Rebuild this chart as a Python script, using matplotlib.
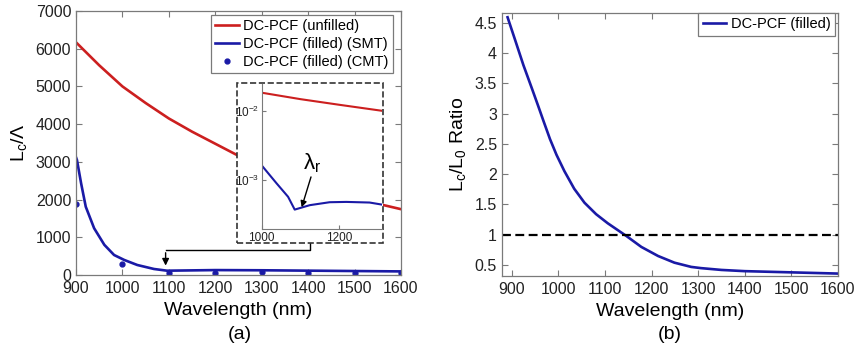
import matplotlib
matplotlib.use("Agg")
from matplotlib import pyplot as plt
from matplotlib.patches import Rectangle

plt.rcParams['font.family'] = ['Liberation Sans', 'DejaVu Sans']
plt.rcParams['mathtext.fontset'] = 'custom'
plt.rcParams['mathtext.rm'] = 'Liberation Sans'

# (a) coupling length / pitch
wl_red = [900, 950, 1000, 1050, 1100, 1150, 1200, 1250, 1300, 1400, 1500, 1560, 1600]
lc_red = [6170, 5560, 5000, 4560, 4150, 3800, 3480, 3160, 2900, 2420, 2060, 1860, 1745]

wl_smt = [900, 902, 911, 921, 939, 961, 982, 1004, 1032, 1068, 1096, 1200, 1300, 1400, 1500, 1600]
lc_smt = [3120, 3050, 2430, 1810, 1240, 800, 530, 398, 265, 159, 114, 130, 125, 115, 105, 95]

wl_cmt = [900, 1000, 1100, 1200, 1300, 1400, 1500, 1600]
lc_cmt = [1880, 285, 55, 65, 70, 65, 60, 60]

# inset (log scale)
wl_in_red = [1000, 1100, 1200, 1310]
lc_in_red = [0.0182, 0.0147, 0.0122, 0.0100]
wl_in_blue = [1000, 1038, 1068, 1085, 1124, 1175, 1218, 1278, 1308]
lc_in_blue = [1.64e-3, 9.1e-4, 5.8e-4, 3.8e-4, 4.4e-4, 4.85e-4, 4.9e-4, 4.8e-4, 4.5e-4]

# (b) ratio
wl_ratio = [891, 907, 925, 943, 957, 968, 982, 996, 1013, 1034, 1056, 1081, 1106,
            1146, 1178, 1214, 1249, 1285, 1306, 1350, 1400, 1500, 1600]
ratio = [4.59, 4.22, 3.80, 3.42, 3.12, 2.88, 2.58, 2.32, 2.05, 1.76, 1.53, 1.34, 1.19,
         0.98, 0.80, 0.65, 0.54, 0.47, 0.45, 0.42, 0.40, 0.38, 0.36]

red = '#cc1f1f'
blue = '#1a1aa6'
spine_c = '#7a7a7a'

fig = plt.figure(figsize=(8.55, 3.48), dpi=100)


def style(ax, size=11.5):
    for s in ax.spines.values():
        s.set_color(spine_c)
        s.set_linewidth(0.9)
    ax.tick_params(direction='in', top=True, right=True, labelsize=size,
                   color=spine_c, labelcolor='#222222', length=4)


ax1 = fig.add_axes([0.0889, 0.2098, 0.3801, 0.7586])
ax1.plot(wl_red, lc_red, color=red, lw=1.9, label='DC-PCF (unfilled)')
ax1.plot(wl_smt, lc_smt, color=blue, lw=1.9, label='DC-PCF (filled) (SMT)')
ax1.plot(wl_cmt, lc_cmt, '.', color=blue, ms=7, label='DC-PCF (filled) (CMT)')
ax1.set_xlim(900, 1600)
ax1.set_ylim(0, 7000)
ax1.set_xticks(range(900, 1601, 100))
ax1.set_yticks(range(0, 7001, 1000))
style(ax1)
ax1.tick_params(axis='x', pad=4.5)
ax1.set_xlabel('Wavelength (nm)', fontsize=14, labelpad=4)
ax1.set_ylabel(r'L$_\mathregular{c}$/Λ', fontsize=14, labelpad=4)
leg = ax1.legend(loc='upper right', bbox_to_anchor=(0.975, 0.985), borderaxespad=0,
                 fontsize=10.5, handlelength=1.6, handletextpad=0.3, fancybox=False,
                 framealpha=1, edgecolor=spine_c, borderpad=0.3, labelspacing=0.25)
leg.get_frame().set_linewidth(0.9)

# arrow from inset box down to the curve
ax1.plot([1404, 1404, 1093], [840, 663, 663], color='black', lw=1)
ax1.annotate('', xy=(1093, 175), xytext=(1093, 663),
             arrowprops=dict(arrowstyle='-|>', color='black', lw=1, mutation_scale=10))

box = Rectangle((0.2768, 0.3009), 0.1708, 0.4606, transform=fig.transFigure,
                facecolor='white', edgecolor='#333333', ls='--', lw=1.2, zorder=5)
fig.patches.append(box)

axi = fig.add_axes([0.3061, 0.342, 0.1407, 0.4167])
axi.set_zorder(6)
axi.patch.set_alpha(0)
axi.plot(wl_in_red, lc_in_red, color=red, lw=1.5)
axi.plot(wl_in_blue, lc_in_blue, color=blue, lw=1.5)
axi.set_yscale('log')
axi.set_xlim(1000, 1310)
axi.set_ylim(2.0e-4, 0.0243)
axi.set_xticks([1000, 1200])
axi.set_yticks([1e-3, 1e-2])
axi.minorticks_off()
for s in ['top', 'right']:
    axi.spines[s].set_visible(False)
for s in ['left', 'bottom']:
    axi.spines[s].set_color(spine_c)
axi.tick_params(direction='in', labelsize=8.5, color=spine_c, labelcolor='#222222',
                length=3, pad=2)
axi.text(1130, 1.75e-3, r'$\mathregular{\lambda_r}$', fontsize=16, ha='center', va='center')
axi.annotate('', xy=(1103, 4.1e-4), xytext=(1127, 1.12e-3),
             arrowprops=dict(arrowstyle='-|>', color='black', lw=1, mutation_scale=9,
                             shrinkA=0, shrinkB=0))

ax2 = fig.add_axes([0.5871, 0.2069, 0.393, 0.7557])
ax2.plot(wl_ratio, ratio, color=blue, lw=1.9, label='DC-PCF (filled)')
ax2.axhline(1.0, color='black', ls='--', lw=1.6, dashes=(4, 2))
ax2.set_xlim(879, 1600)
ax2.set_ylim(0.32, 4.66)
ax2.set_xticks(range(900, 1601, 100))
ax2.set_yticks([0.5, 1, 1.5, 2, 2.5, 3, 3.5, 4, 4.5])
ax2.set_yticklabels(['0.5', '1', '1.5', '2', '2.5', '3', '3.5', '4', '4.5'])
style(ax2)
ax2.tick_params(axis='x', pad=4.5)
ax2.set_xlabel('Wavelength (nm)', fontsize=14, labelpad=4)
ax2.set_ylabel(r'L$_\mathregular{c}$/L$_\mathregular{0}$ Ratio', fontsize=14, labelpad=4)
leg2 = ax2.legend(loc='upper right', bbox_to_anchor=(0.99, 1.0), borderaxespad=0,
                  fontsize=10.5, handlelength=1.6, handletextpad=0.3, fancybox=False,
                  framealpha=1, edgecolor=spine_c, borderpad=0.3)
leg2.get_frame().set_linewidth(0.9)

fig.text(0.2807, 0.04, '(a)', fontsize=14, ha='center', va='center')
fig.text(0.7836, 0.04, '(b)', fontsize=14, ha='center', va='center')

fig.savefig('out.png', dpi=100)
